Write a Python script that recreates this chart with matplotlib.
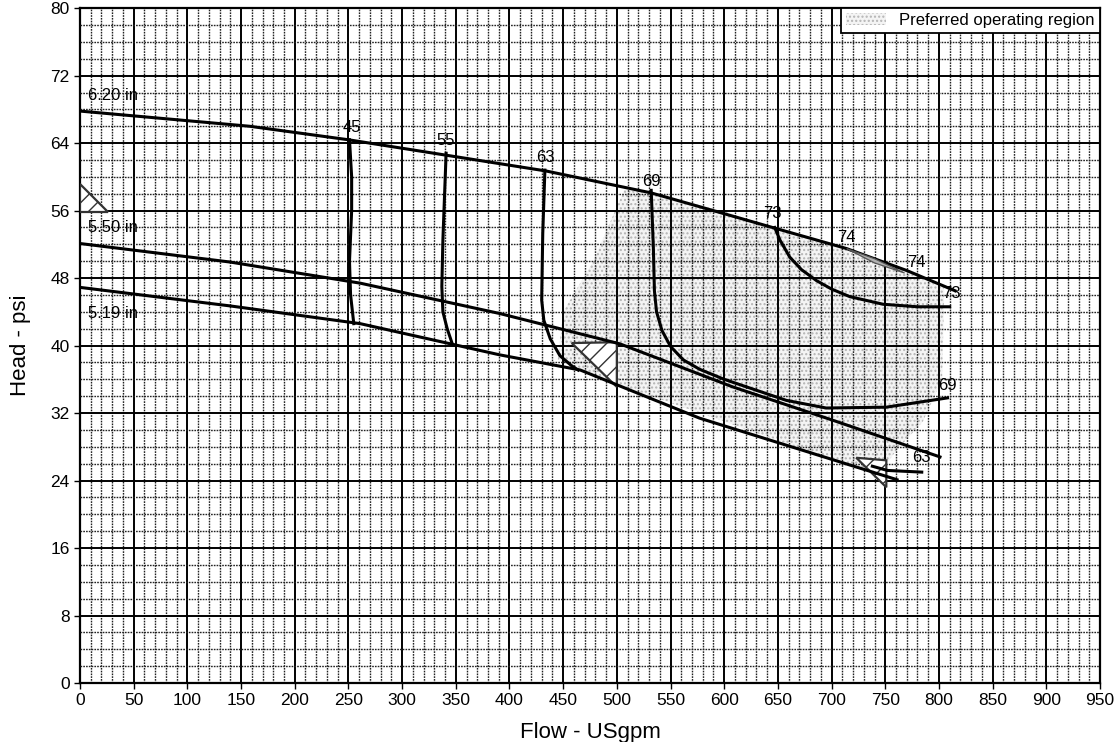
import matplotlib
matplotlib.use("Agg")
import matplotlib.pyplot as plt
from matplotlib.patches import Patch
import numpy as np

plt.rcParams['font.family'] = ['Liberation Sans', 'DejaVu Sans']

# impeller head curves (flow USgpm, head psi)
imp620_q = [0, 158, 250, 434, 532, 645, 714, 770, 815]
imp620_h = [67.8, 66.0, 64.4, 60.7, 58.1, 54.0, 51.5, 48.9, 46.5]
imp550_q = [0, 140, 261, 391, 503, 608, 700, 801]
imp550_h = [52.1, 49.9, 47.4, 43.8, 40.2, 35.1, 31.2, 26.8]
imp519_q = [0, 140, 261, 391, 466, 577, 761]
imp519_h = [46.9, 44.7, 42.6, 38.9, 37.1, 31.4, 24.1]

# efficiency contours
eff45_q = [251, 253, 253, 251, 252, 255]
eff45_h = [64.4, 60.0, 56.0, 50.0, 46.0, 42.6]
eff55_q = [341, 339, 338, 337, 338, 342, 347]
eff55_h = [62.8, 56.0, 52.5, 47.0, 44.0, 42.0, 40.1]
eff63_q = [433, 431, 430, 432, 438, 447, 458, 464]
eff63_h = [60.8, 53.3, 45.4, 43.0, 40.8, 38.8, 37.6, 37.1]
eff63_tail_q = [738, 752, 784]
eff63_tail_h = [25.7, 25.2, 25.0]
eff69_q = [532, 534, 535, 537, 542, 550, 562, 577, 600, 658, 695, 751, 808]
eff69_h = [58.4, 51.7, 46.5, 44.0, 41.8, 39.9, 38.3, 37.2, 36.0, 33.5, 32.6, 32.7, 33.8]
eff73_q = [647, 652, 661, 672, 686, 700, 717, 748, 780, 810]
eff73_h = [54.0, 52.5, 50.5, 49.0, 47.7, 46.7, 45.8, 44.9, 44.6, 44.6]
eff74_q = [714, 740, 768, 740, 714]
eff74_h = [51.5, 50.3, 48.6, 49.8, 51.5]

eff_labels = ["45", "55", "63", "69", "73", "74", "74", "73", "69", "63"]
eff_label_q = [253, 341, 433, 532, 645, 714, 779, 812, 808, 784]
eff_label_h = [65.9, 64.3, 62.3, 59.4, 55.7, 52.8, 49.9, 46.2, 35.3, 26.7]

imp_labels = ["6.20 in", "5.50 in", "5.19 in"]
imp_label_h = [69.7, 54.0, 43.8]

# preferred operating region outline
por_q = [507, 532, 600, 645, 714, 770, 805, 803, 785, 760, 745, 700, 600, 503, 466, 445, 450, 478, 507]
por_h = [58.5, 58.1, 55.9, 54.0, 51.5, 48.9, 47.0, 36.0, 31.0, 27.5, 25.0, 26.5, 31.0, 35.3, 37.1, 38.3, 44.0, 50.0, 58.5]

# hatched limit markers
tri1_q = [0, 0, 26]
tri1_h = [59.2, 55.8, 55.8]
tri2_q = [458, 500, 500]
tri2_h = [40.3, 40.4, 35.1]
tri3_q = [723, 751, 751]
tri3_h = [26.7, 26.4, 23.2]

fig = plt.figure(figsize=(11.19, 7.42), dpi=100)
ax = fig.add_axes([0.0715, 0.0795, 0.9115, 0.9095])

ax.fill(por_q, por_h, facecolor='#f4f4f4', edgecolor='#b4b4b4', hatch='....', lw=0, zorder=1)

ax.set_xlim(0, 950)
ax.set_ylim(0, 80)
ax.set_xticks(np.arange(0, 951, 50))
ax.set_yticks(np.arange(0, 81, 8))
ax.set_xticks(np.arange(0, 951, 10), minor=True)
ax.set_yticks(np.arange(0, 81, 2), minor=True)
ax.grid(which='minor', color='#222222', linestyle=(0, (1.2, 0.8)), lw=1.0, zorder=2)
ax.grid(which='major', color='black', linestyle='-', lw=1.4, zorder=2)
ax.set_axisbelow(False)
ax.tick_params(which='minor', length=0)
ax.tick_params(which='major', length=4, width=1, labelsize=12.5)
for s in ax.spines.values():
    s.set_linewidth(1.6)

for tq, th in [(tri1_q, tri1_h), (tri2_q, tri2_h), (tri3_q, tri3_h)]:
    ax.fill(tq, th, facecolor='white', edgecolor='#333333', hatch='//', lw=1.6, zorder=3)

lw = 2.2
for q, h in [(imp620_q, imp620_h), (imp550_q, imp550_h), (imp519_q, imp519_h),
             (eff45_q, eff45_h), (eff55_q, eff55_h), (eff63_q, eff63_h),
             (eff63_tail_q, eff63_tail_h), (eff69_q, eff69_h), (eff73_q, eff73_h)]:
    ax.plot(q, h, color='black', lw=lw, zorder=4, solid_joinstyle='round')
ax.fill(eff74_q, eff74_h, facecolor='#b0b0b0', edgecolor='#555555', lw=0.9, zorder=4)

for t, q, h in zip(eff_labels, eff_label_q, eff_label_h):
    ax.text(q, h, t, fontsize=12, ha='center', va='center', zorder=5)
for t, h in zip(imp_labels, imp_label_h):
    ax.text(7, h, t, fontsize=12, ha='left', va='center', zorder=5)

ax.set_xlabel('Flow - USgpm', fontsize=16, labelpad=10)
ax.set_ylabel('Head - psi', fontsize=16, labelpad=14)

handle = Patch(facecolor='#f4f4f4', edgecolor='#b4b4b4', hatch='....', lw=0)
leg = ax.legend([handle], ['Preferred operating region'], loc='upper right',
                bbox_to_anchor=(1.0, 1.0), borderaxespad=0, fancybox=False,
                framealpha=1, fontsize=12, handlelength=2.4, borderpad=0.3)
leg.get_frame().set_edgecolor('black')
leg.get_frame().set_linewidth(1.3)
leg.set_zorder(10)

fig.savefig('out.png', dpi=100)
